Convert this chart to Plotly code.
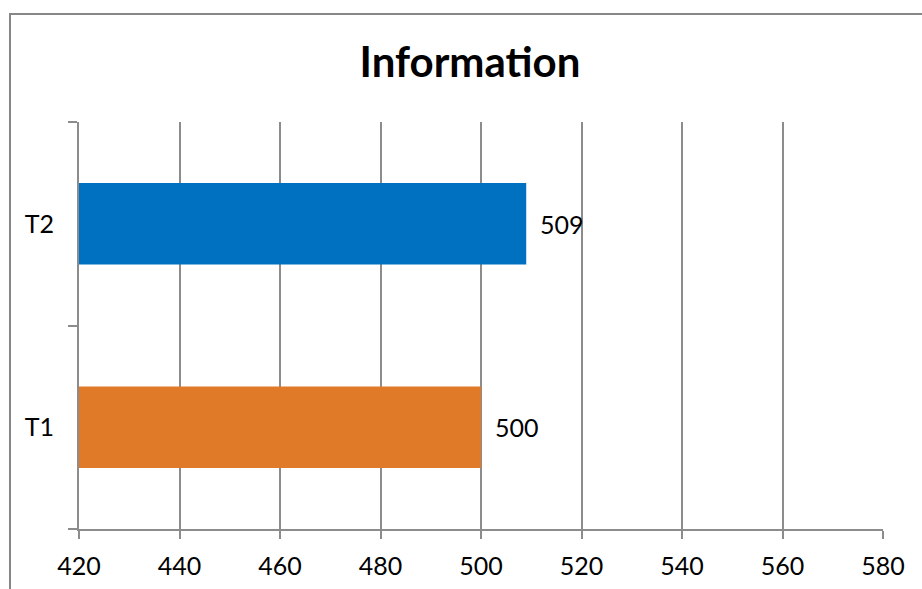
import plotly.graph_objects as go

# Data
categories = ["T1", "T2"]
values = [500, 509]
bar_colors = ["#E07A28", "#0070C0"]
x_ticks = [420, 440, 460, 480, 500, 520, 540, 560, 580]
chart_title = "Information"

W, H = 922, 589
L, R, T, B = 79, 39, 122, 60
pw, ph = W - L - R, H - T - B

def px_to_paper_x(px):
    return (px - L) / pw

def px_to_paper_y(py):
    return (H - B - py) / ph

grid_col = "#8C8C8C"
font_family = "Lato, 'Open Sans', sans-serif"
tick_size = 25

fig = go.Figure()
fig.add_trace(go.Bar(
    y=categories,
    x=values,
    orientation="h",
    width=0.4,
    marker=dict(color=bar_colors, line=dict(width=0)),
    hoverinfo="x+y",
))

# value labels beside each bar end
for cat, val in zip(categories, values):
    fig.add_annotation(
        x=val, y=cat, xref="x", yref="y",
        text=str(val), showarrow=False,
        xanchor="left", yanchor="middle", xshift=12,
        font=dict(family=font_family, size=tick_size, color="#000000"),
    )

# outer chart frame
fig.add_shape(
    type="rect", xref="paper", yref="paper",
    x0=px_to_paper_x(10), x1=px_to_paper_x(W + 20),
    y0=px_to_paper_y(H + 20), y1=px_to_paper_y(14),
    line=dict(color="#868686", width=2), fillcolor="rgba(0,0,0,0)",
    layer="below",
)

fig.update_layout(
    width=W, height=H,
    margin=dict(l=L, r=R, t=T, b=B, pad=0, autoexpand=False),
    paper_bgcolor="white",
    plot_bgcolor="white",
    showlegend=False,
    title=dict(
        text=f"<b>{chart_title}</b>",
        x=470 / W, xref="container", xanchor="center",
        y=1 - 62 / H, yanchor="middle", yref="container",
        font=dict(family=font_family, size=42, color="#000000"),
    ),
    font=dict(family=font_family, size=tick_size, color="#000000"),
    bargap=0.6,
    xaxis=dict(
        range=[420, 580],
        tickvals=x_ticks,
        ticktext=[str(v) for v in x_ticks],
        showgrid=True, gridcolor=grid_col, gridwidth=2,
        showline=True, linecolor=grid_col, linewidth=2,
        ticks="outside", ticklen=8, tickwidth=2, tickcolor=grid_col,
        ticklabelstandoff=6,
        zeroline=False,
        automargin=False,
        tickfont=dict(family=font_family, size=tick_size, color="#000000"),
        fixedrange=True,
    ),
    yaxis=dict(
        type="category",
        categoryorder="array", categoryarray=categories,
        showgrid=False,
        showline=True, linecolor=grid_col, linewidth=2,
        ticks="outside", ticklen=9, tickwidth=2, tickcolor=grid_col,
        tickson="boundaries",
        ticklabelstandoff=18,
        automargin=False,
        tickfont=dict(family=font_family, size=tick_size, color="#000000"),
        fixedrange=True,
    ),
)

fig.write_html("out.html")
